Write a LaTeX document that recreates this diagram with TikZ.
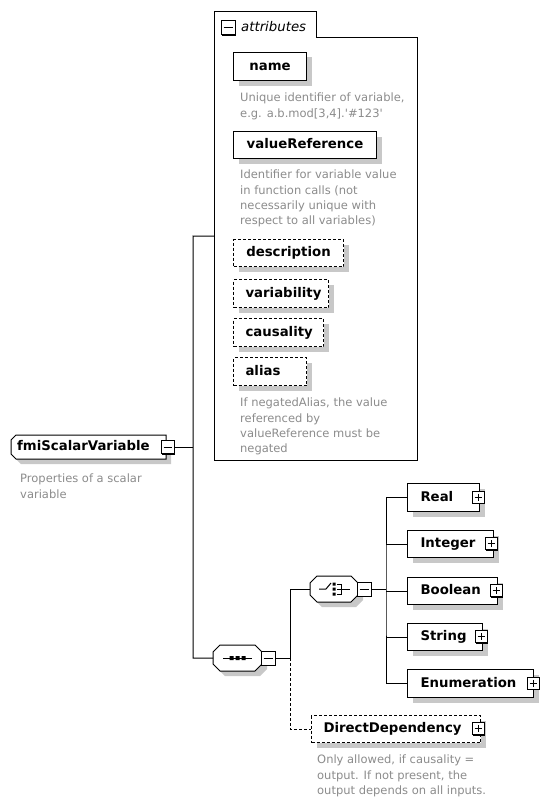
\documentclass[tikz,border=0pt]{standalone}
\usepackage{fontspec}
\setmainfont{DejaVu Sans}
\usetikzlibrary{shadows}
\definecolor{descgray}{RGB}{140,140,140}
\definecolor{shd}{RGB}{200,200,200}
\newcommand\lblfont{\fontsize{13.3}{16}\selectfont\bfseries\hyphenpenalty=10000 }
\newcommand\descfont{\fontsize{11.5}{15.2}\selectfont}
\newcommand\tabfont{\fontsize{13.3}{16}\selectfont\itshape}
\tikzset{
  sh/.style={drop shadow={shadow xshift=5pt,shadow yshift=-5pt,fill=shd,opacity=1}},
  el/.style={draw, fill=white, line width=1pt, sh, anchor=north west, inner xsep=12pt,
    inner ysep=0pt, font=\lblfont, minimum height=27pt, align=left,
    text height=9.8pt, text depth=2.6pt},
  optel/.style={el, dash pattern=on 3pt off 2pt},
  desc/.style={anchor=north west, inner sep=0pt, align=left, font=\descfont, text=descgray},
  tog/.style={draw, fill=white, line width=1pt, minimum size=#1, inner sep=0pt,
    drop shadow={shadow xshift=1pt,shadow yshift=-1pt,fill=black,opacity=1}},
  tog/.default=12pt,
  minus/.style={tog=#1, path picture={\draw[line width=1pt]
      ([xshift=2.5pt]path picture bounding box.west) -- ([xshift=-2.5pt]path picture bounding box.east);}},
  minus/.default=12pt,
  plus/.style={tog=#1, path picture={\draw[line width=1pt]
      ([xshift=2.5pt]path picture bounding box.west) -- ([xshift=-2.5pt]path picture bounding box.east)
      ([yshift=-2.5pt]path picture bounding box.north) -- ([yshift=2.5pt]path picture bounding box.south);}},
  plus/.default=12pt,
  outline/.style={draw, fill=white, line width=1pt},
  holder/.style={draw=none, inner sep=0pt, anchor=north west},
  conn/.style={line width=1pt},
  optconn/.style={conn, dash pattern=on 3pt off 2pt},
}
\begin{document}
\begin{tikzpicture}[x=1pt,y=-1pt]
\fill[white] (0,0) rectangle (540,800);
\useasboundingbox (0,0) rectangle (540,800);

% ---------- attributes container ----------
\draw[outline] (214,460) -- (214,12) -- (316,12) -- (316,38) -- (417,38) -- (417,460) -- cycle;
\node[holder, minimum width=203pt, minimum height=448pt] (attr) at (214,12) {};
\node[minus=14pt] (attrT) at (228,28) {};
\node[anchor=west, inner sep=0pt, font=\tabfont] (attrL) at (241,27) {attributes};

\node[el, text width=49pt, align=center, minimum height=28pt] (name) at (233,52) {name};
\node[desc] (nameD) at (240,93) {Unique identifier of variable,\\e.g. a.b.mod[3,4].\textquotesingle\#123\textquotesingle};

\node[el, text width=119pt, align=center] (vref) at (233,131) {valueReference};
\node[desc] (vrefD) at (240,170) {Identifier for variable value\\in function calls (not\\necessarily unique with\\respect to all variables)};

\node[optel, text width=86pt, align=center] (descr) at (233,239) {description};
\node[optel, text width=71pt, align=center, minimum height=28pt] (varia) at (233,279) {variability};
\node[optel, text width=66pt, align=center, minimum height=28pt] (caus) at (233,318) {causality};
\node[optel, text width=49pt, align=left, minimum height=28pt] (alias) at (233,357) {alias};
\node[desc] (aliasD) at (240,398) {If negatedAlias, the value\\referenced by\\valueReference must be\\negated};

% ---------- root element ----------
\draw[outline, sh] (16,435) -- (166,435) -- (166,459) -- (16,459) -- (11,454) -- (11,440) -- cycle;
\node[holder, minimum width=155pt, minimum height=24pt, font=\lblfont, text height=9.8pt, text depth=2.6pt,
      inner xsep=6pt, text width=143pt, align=left] (fmi) at (11,435) {fmiScalarVariable};
\node[minus=13pt] (fmiT) at (167.5,447) {};
\node[desc] (fmiD) at (20,474) {Properties of a scalar\\variable};

% ---------- sequence compositor ----------
\draw[outline, sh] (220,645) -- (255,645) -- (262,652) -- (262,664) -- (255,671) -- (220,671) -- (213,664) -- (213,652) -- cycle;
\node[holder, minimum width=49pt, minimum height=26pt] (seq) at (213,645) {};
\draw[conn] (223,658) -- (252,658);
\fill (229.5,656) rectangle (233.5,660) (235.5,656) rectangle (239.5,660) (241.5,656) rectangle (245.5,660);
\node[minus=14pt] (seqT) at (268,658) {};

% ---------- choice compositor ----------
\draw[outline, sh] (317,576) -- (351,576) -- (358,583) -- (358,595) -- (351,602) -- (317,602) -- (310,595) -- (310,583) -- cycle;
\node[holder, minimum width=48pt, minimum height=26pt] (cho) at (310,576) {};
\draw[conn] (319,589) -- (326,589) -- (331,583);
\fill (332.5,582.5) rectangle (335.5,585.5) (332.5,587.5) rectangle (335.5,590.5) (332.5,592.5) rectangle (335.5,595.5);
\draw[conn] (337,584) -- (341,584) -- (341,594) -- (337,594) (337,589) -- (350,589);
\node[minus=14pt] (choT) at (364,589) {};

% ---------- choice members ----------
\node[el, inner xsep=13pt, text width=46pt, minimum height=28pt] (real) at (407,483) {Real};
\node[plus] (realT) at (478,497) {};
\node[el, inner xsep=13pt, text width=60pt] (int) at (407,530) {Integer};
\node[plus] (intT) at (491,543.5) {};
\node[el, inner xsep=13pt, text width=64pt] (bool) at (407,577) {Boolean};
\node[plus] (boolT) at (496,590.5) {};
\node[el, inner xsep=13pt, text width=49pt] (str) at (407,623) {String};
\node[plus] (strT) at (481,636.5) {};
\node[el, inner xsep=13pt, text width=100pt, minimum height=28pt] (enum) at (407,669) {Enumeration};
\node[plus] (enumT) at (533,683) {};

% ---------- optional element ----------
\node[optel, text width=145pt] (dd) at (311,715) {DirectDependency};
\node[plus] (ddT) at (478,728.5) {};
\node[desc] (ddD) at (317,755) {Only allowed, if causality =\\output. If not present, the\\output depends on all inputs.};

% ---------- connectors ----------
\coordinate (busTop) at (193,236);
\coordinate (seqJ) at (290,658);
\coordinate (cb) at (386,589);
\draw[conn] (attr.west) -- (busTop) |- (seq.west);
\draw[conn] (fmiT.east) -- (fmiT.east -| busTop);
\draw[conn] (seqT.east) -- (seqJ) |- (cho.west);
\draw[optconn] (seqJ) |- (dd.west);
\draw[conn] (choT.east) -- (cb);
\draw[conn] (real.west) -| (cb) |- (enum.west);
\draw[conn] (int.west) -- (int.west -| cb);
\draw[conn] (bool.west) -- (bool.west -| cb);
\draw[conn] (str.west) -- (str.west -| cb);
\end{tikzpicture}
\end{document}
